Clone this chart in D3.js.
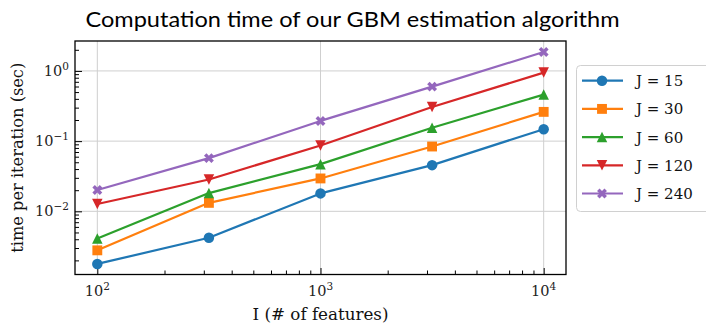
<!DOCTYPE html>
<html><head><meta charset="utf-8">
<script src="https://cdn.jsdelivr.net/npm/d3@7"></script>
<style>body{margin:0;background:#fff}svg{display:block}</style>
</head><body><svg id="c" width="706" height="324"></svg>
<script>
// ---- data ----
const features = [100, 316.23, 1000, 3162.3, 10000];
const seriesNames = ["J = 15", "J = 30", "J = 60", "J = 120", "J = 240"];
const j15  = [0.00178, 0.0042, 0.0180, 0.0455, 0.148];
const j30  = [0.00278, 0.0132, 0.0294, 0.0838, 0.261];
const j60  = [0.00410, 0.0182, 0.0470, 0.155, 0.460];
const j120 = [0.0127, 0.0284, 0.0866, 0.307, 0.946];
const j240 = [0.0201, 0.0573, 0.194, 0.598, 1.86];
const xTickValues = [100, 1000, 10000];
const xTickExp = ["2", "3", "4"];
const yTickValues = [0.01, 0.1, 1];
const yTickExp = ["\u22122", "\u22121", "0"];
const titleText = "Computation time of our GBM estimation algorithm";
const xLabel = "I  (# of features)";
const yLabel = "time per iteration (sec)";

const seriesValues = [j15, j30, j60, j120, j240];
const colors = ["#1f77b4", "#ff7f0e", "#2ca02c", "#d62728", "#9467bd"];
const markers = ["circle", "square", "triUp", "triDown", "xfilled"];

const svg = d3.select("#c");
const L = 75, R = 566, T = 41, B = 274.5;
const x = d3.scaleLog().domain([Math.pow(10, 1.9), Math.pow(10, 4.1)]).range([L, R]);
const y = d3.scaleLog().domain([Math.pow(10, -2.9), Math.pow(10, 0.4264)]).range([B, T]);

const serif = "'DejaVu Serif', serif";

// grid
svg.append("g").selectAll("line").data(xTickValues).join("line")
  .attr("x1", d => x(d)).attr("x2", d => x(d)).attr("y1", T).attr("y2", B)
  .attr("stroke", "#cfcfcf").attr("stroke-width", 1);
svg.append("g").selectAll("line").data(yTickValues).join("line")
  .attr("x1", L).attr("x2", R).attr("y1", d => y(d)).attr("y2", d => y(d))
  .attr("stroke", "#cfcfcf").attr("stroke-width", 1);

// minor ticks
const xMinor = [];
[100, 1000].forEach(b => { for (let k = 2; k <= 9; k++) xMinor.push(b * k); });
const yMinor = [];
[0.001, 0.01, 0.1, 1].forEach(b => { for (let k = 2; k <= 9; k++) { const v = b * k; if (v > y.domain()[0] && v < y.domain()[1]) yMinor.push(v); } });

const gx = svg.append("g").attr("transform", `translate(0,${B})`);
gx.call(d3.axisBottom(x).tickValues(xMinor).tickSize(-4).tickFormat(() => ""));
gx.append("g").call(d3.axisBottom(x).tickValues(xTickValues).tickSize(-6.5).tickFormat(() => ""));
gx.selectAll(".domain").remove();
gx.selectAll("line").attr("stroke", "#000").attr("stroke-width", 1);

const gy = svg.append("g").attr("transform", `translate(${L},0)`);
gy.call(d3.axisLeft(y).tickValues(yMinor).tickSize(-4).tickFormat(() => ""));
gy.append("g").call(d3.axisLeft(y).tickValues(yTickValues).tickSize(-7).tickFormat(() => ""));
gy.selectAll(".domain").remove();
gy.selectAll("line").attr("stroke", "#000").attr("stroke-width", 1);

// tick labels
const xl = svg.append("g").selectAll("text").data(xTickValues).join("text")
  .attr("x", d => x(d)).attr("y", 296).attr("text-anchor", "middle")
  .attr("font-family", serif).attr("font-size", 14.5).attr("fill", "#222");
xl.append("tspan").text("10");
xl.append("tspan").attr("dy", -6).attr("font-size", 10.5).text((d, i) => xTickExp[i]);

const yl = svg.append("g").selectAll("text").data(yTickValues).join("text")
  .attr("x", 69).attr("y", d => y(d) + 5).attr("text-anchor", "end")
  .attr("font-family", serif).attr("font-size", 14.5).attr("fill", "#222");
yl.append("tspan").text("10");
yl.append("tspan").attr("dy", -6).attr("font-size", 10.5).text((d, i) => yTickExp[i]);

// marker paths (size ms)
const ms = 10.5;
function markerPath(type, s) {
  const h = s / 2;
  if (type === "circle") return d3.symbol(d3.symbolCircle, Math.PI * h * h)();
  if (type === "square") { const q = s * 0.47; return `M${-q},${-q}H${q}V${q}H${-q}Z`; }
  if (type === "triUp") return `M0,${-h}L${h},${h}L${-h},${h}Z`;
  if (type === "triDown") return `M0,${h}L${h},${-h}L${-h},${-h}Z`;
  if (type === "xfilled") {
    const pts = [[-1,-3],[1,-3],[1,-1],[3,-1],[3,1],[1,1],[1,3],[-1,3],[-1,1],[-3,1],[-3,-1],[-1,-1]];
    const c = Math.SQRT1_2, k = s / 6;
    return "M" + pts.map(([a, b]) => [((a - b) * c * k).toFixed(2), ((a + b) * c * k).toFixed(2)].join(",")).join("L") + "Z";
  }
}

// lines + markers
const plot = svg.append("g");
const line = d3.line().x(d => x(d[0])).y(d => y(d[1]));
seriesValues.forEach((vals, i) => {
  const pts = features.map((f, k) => [f, vals[k]]);
  plot.append("path").datum(pts).attr("d", line).attr("fill", "none")
    .attr("stroke", colors[i]).attr("stroke-width", 2.2).attr("stroke-linejoin", "round");
  plot.append("g").selectAll("path").data(pts).join("path")
    .attr("transform", d => `translate(${x(d[0])},${y(d[1])})`)
    .attr("d", markerPath(markers[i], ms)).attr("fill", colors[i]);
});

// frame
svg.append("rect").attr("x", L).attr("y", T).attr("width", R - L).attr("height", B - T)
  .attr("fill", "none").attr("stroke", "#000").attr("stroke-width", 1.3);

// title
svg.append("text").attr("x", 352.5).attr("y", 27).attr("text-anchor", "middle")
  .attr("font-family", "Lato, 'DejaVu Sans', sans-serif").attr("font-size", 21)
  .attr("textLength", 534).attr("lengthAdjust", "spacingAndGlyphs")
  .attr("fill", "#000").text(titleText);

// axis labels
svg.append("text").attr("x", (L + R) / 2).attr("y", 320).attr("text-anchor", "middle")
  .attr("font-family", serif).attr("font-size", 17).attr("fill", "#111")
  .attr("textLength", 136).attr("lengthAdjust", "spacingAndGlyphs").text(xLabel);
svg.append("text").attr("transform", `translate(23,${(T + B) / 2}) rotate(-90)`)
  .attr("text-anchor", "middle").attr("font-family", serif).attr("font-size", 17).attr("fill", "#111")
  .attr("textLength", 190).attr("lengthAdjust", "spacingAndGlyphs").text(yLabel);

// legend
const lg = svg.append("g");
lg.append("rect").attr("x", 576.5).attr("y", 65.5).attr("width", 135).attr("height", 146)
  .attr("rx", 4).attr("fill", "#fff").attr("stroke", "#d0d0d0").attr("stroke-width", 1);
seriesNames.forEach((name, i) => {
  const cy = 80.7 + i * 28.2;
  lg.append("line").attr("x1", 582).attr("x2", 623).attr("y1", cy).attr("y2", cy)
    .attr("stroke", colors[i]).attr("stroke-width", 2.2);
  lg.append("path").attr("transform", `translate(602,${cy})`).attr("d", markerPath(markers[i], ms)).attr("fill", colors[i]);
  lg.append("text").attr("x", 636).attr("y", cy + 5.5).attr("font-family", serif).attr("font-size", 15)
    .attr("fill", "#111").text(name);
});
</script></body></html>
